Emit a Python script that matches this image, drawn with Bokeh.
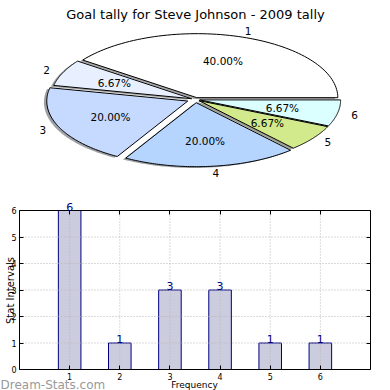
import numpy as np
from bokeh.plotting import figure
from bokeh.layouts import column
from bokeh.models import (Range1d, Label, LabelSet, ColumnDataSource,
                          FixedTicker, LinearAxis)
from bokeh.embed import file_html
from bokeh.resources import INLINE
from bokeh.core.properties import value

# ---------------- data ----------------
title_text = "Goal tally for Steve Johnson - 2009 tally"
categories = ["1", "2", "3", "4", "5", "6"]
counts = [6, 1, 3, 3, 1, 1]
explode = [0.03, 0.03, 0.06, 0.05, 0.03, 0.03]
slice_colors = ["#ffffff", "#e8f0ff", "#c6d9ff", "#b5d5ff", "#d2ea8c", "#dbffff"]
bar_x = [1, 2, 3, 4, 5, 6]
x_ticks = [1, 2, 3, 4, 5, 6]
y_ticks = [0, 1, 2, 3, 4, 5, 6]
x_limits = (0, 7)
y_limits = (0, 6)
x_label = "Frequency"
y_label = "Stat Intervals"
watermark = "Dream-Stats.com"

FONT = "DejaVu Sans"

# ---------------- pie ----------------
W = 390
PH = 198
RX, RY = 141.0, 64.0      # pixel size of the unit radius
CX, CY = 195.0, 99.0      # pie centre in canvas pixels (from left, from bottom)

pie = figure(width=W, height=PH, x_axis_type=None, y_axis_type=None,
             x_range=Range1d(-CX / RX, (W - CX) / RX),
             y_range=Range1d(-CY / RY, (PH - CY) / RY),
             toolbar_location=None, output_backend="svg",
             min_border=0, outline_line_color=None)
pie.xgrid.visible = False
pie.ygrid.visible = False

total = float(sum(counts))
fracs = [c / total for c in counts]
starts = np.cumsum([0.0] + fracs[:-1]) * 2 * np.pi
ends = np.cumsum(fracs) * 2 * np.pi

def darker(hexcol, rho=0.3):
    h = hexcol.lstrip("#")
    r, g, b = (int(h[i:i + 2], 16) for i in (0, 2, 4))
    return "#%02x%02x%02x" % (int(r * rho), int(g * rho), int(b * rho))

polys_x, polys_y, shx, shy = [], [], [], []
lab_x, lab_y, lab_align = [], [], []
pct_x, pct_y, pct_txt = [], [], []
for i in range(len(counts)):
    a0, a1 = starts[i], ends[i]
    mid = 0.5 * (a0 + a1)
    ox = explode[i] * np.cos(mid)
    oy = explode[i] * np.sin(mid)
    t = np.linspace(a0, a1, 80)
    xs = [ox] + list(ox + np.cos(t)) + [ox]
    ys = [oy] + list(oy + np.sin(t)) + [oy]
    polys_x.append(xs)
    polys_y.append(ys)
    shx.append([x - 0.02 for x in xs])
    shy.append([y - 0.02 for y in ys])
    lx = ox + 1.1 * np.cos(mid)
    ly = oy + 1.1 * np.sin(mid)
    lab_x.append(lx)
    lab_y.append(ly)
    lab_align.append("left" if lx > 0 else "right")
    pct_x.append(ox + 0.6 * np.cos(mid))
    pct_y.append(oy + 0.6 * np.sin(mid))
    pct_txt.append("%.2f%%" % (fracs[i] * 100))

pie.patches(xs=shx, ys=shy, fill_color=[darker(c) for c in slice_colors],
            fill_alpha=0.5, line_color=None)
pie.patches(xs=polys_x, ys=polys_y, fill_color=slice_colors,
            line_color="black", line_width=1)

src_lab = ColumnDataSource(dict(x=lab_x, y=lab_y, t=categories, a=lab_align))
pie.text(x="x", y="y", text="t", text_align="a", text_baseline="middle",
         text_font=value(FONT), text_font_size="10.5px", text_color="black",
         source=src_lab)
pie.text(x=pct_x, y=pct_y, text=pct_txt, text_align="center",
         text_baseline="middle", text_font=value(FONT),
         text_font_size="10.5px", text_color="black")

pie.add_layout(Label(x=CX, y=PH - 14, x_units="screen", y_units="screen",
                     text=title_text, text_align="center",
                     text_baseline="alphabetic", text_font=FONT,
                     text_font_size="13px", text_color="black"))

# ---------------- bars ----------------
BH = 390 - PH                       # canvas covers page y 198..390
FL, FR, FT, FB = 19.0, 370.0, 210.0 - PH, 369.0 - PH   # axes box in canvas px
sx = (FR - FL) / (x_limits[1] - x_limits[0])
sy = (FB - FT) / (y_limits[1] - y_limits[0])
bar = figure(width=W, height=BH,
             x_range=Range1d(x_limits[0] - FL / sx, x_limits[1] + (W - FR) / sx),
             y_range=Range1d(y_limits[0] - (BH - FB) / sy, y_limits[1] + FT / sy),
             toolbar_location=None, output_backend="svg",
             min_border=0, outline_line_color=None)
bar.xgrid.visible = False
bar.ygrid.visible = False

bar.vbar(x=bar_x, top=counts, width=0.45, fill_color="#ccccdf",
         line_color="navy", line_width=1)

# dotted grid on top of the bars, inside the axes box
bar.segment(x0=x_ticks, y0=[y_limits[0]] * len(x_ticks),
            x1=x_ticks, y1=[y_limits[1]] * len(x_ticks),
            line_color="#b5b5b5", line_dash="1 2", line_width=1)
bar.segment(x0=[x_limits[0]] * len(y_ticks), y0=y_ticks,
            x1=[x_limits[1]] * len(y_ticks), y1=y_ticks,
            line_color="#b5b5b5", line_dash="1 2", line_width=1)

def style_axis(ax, show_labels):
    ax.major_tick_in = 4
    ax.major_tick_out = 0
    ax.minor_tick_in = 0
    ax.minor_tick_out = 0
    ax.axis_line_color = "black"
    ax.axis_line_width = 1
    ax.major_tick_line_color = "black"
    ax.major_label_text_font = FONT
    ax.major_label_text_font_size = "8px"
    ax.major_label_text_color = "black" if show_labels else None
    ax.major_label_standoff = 3

xb = bar.xaxis[0]
xb.fixed_location = y_limits[0]
xb.bounds = x_limits
xb.ticker = FixedTicker(ticks=x_ticks)
style_axis(xb, True)

yl = bar.yaxis[0]
yl.fixed_location = x_limits[0]
yl.bounds = y_limits
yl.ticker = FixedTicker(ticks=y_ticks)
style_axis(yl, True)

xt = LinearAxis(fixed_location=y_limits[1], bounds=x_limits,
                ticker=FixedTicker(ticks=x_ticks))
style_axis(xt, False)
bar.add_layout(xt, "above")

yr = LinearAxis(fixed_location=x_limits[1], bounds=y_limits,
                ticker=FixedTicker(ticks=y_ticks))
style_axis(yr, False)
bar.add_layout(yr, "right")

bar.add_layout(LabelSet(x="x", y="y", text="t",
                        source=ColumnDataSource(dict(x=bar_x, y=counts,
                                                     t=[str(c) for c in counts])),
                        text_align="center", text_baseline="alphabetic",
                        text_font=value(FONT), text_font_size="11px",
                        text_color="navy"))

# screen positions measured from the canvas' bottom-left corner
bar.add_layout(Label(x=10, y=390 - 290, x_units="screen", y_units="screen",
                     text=y_label, angle=np.pi / 2, text_align="center",
                     text_baseline="alphabetic", text_font=FONT,
                     text_font_size="10px", text_color="black"))
bar.add_layout(Label(x=194, y=390 - 384, x_units="screen", y_units="screen",
                     text=x_label, text_align="center",
                     text_baseline="alphabetic",
                     text_font=FONT, text_font_size="9px", text_color="black"))
bar.add_layout(Label(x=0, y=390 - 384, x_units="screen", y_units="screen",
                     text=watermark, text_align="left",
                     text_baseline="alphabetic", text_font=FONT,
                     text_font_size="12px", text_color="#999999"))

layout = column(pie, bar, spacing=0)
open("out.html", "w").write(file_html(layout, INLINE))
